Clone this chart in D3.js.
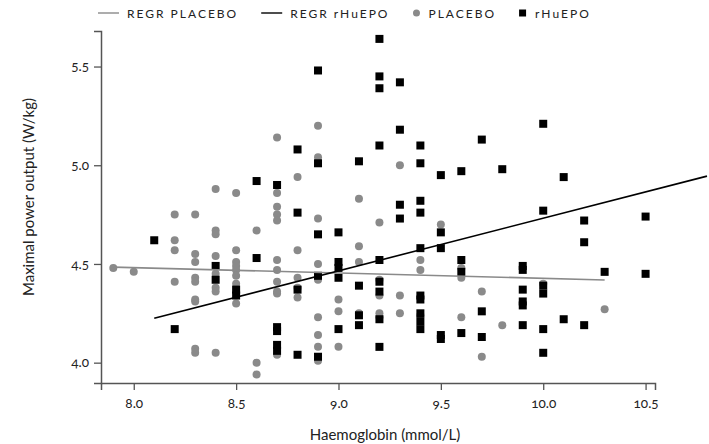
<!DOCTYPE html>
<html>
<head>
<meta charset="utf-8">
<script src="https://cdn.jsdelivr.net/npm/d3@7"></script>
<style>
    body { margin: 0; background: #fff; }
    text { font-family: Lato, "Open Sans", sans-serif; fill: #222; }
</style>
</head>
<body>
<script>
    // placebo group (grey dots)
    const placeboHb = [
        7.9, 8.0,
        8.2, 8.2, 8.2, 8.2,
        8.3, 8.3, 8.3, 8.3, 8.3, 8.3, 8.3, 8.3, 8.3,
        8.4, 8.4, 8.4, 8.4, 8.4, 8.4, 8.4, 8.4,
        8.5, 8.5, 8.5, 8.5, 8.5, 8.5, 8.5, 8.5,
        8.6, 8.6, 8.6,
        8.7, 8.7, 8.7, 8.7, 8.7, 8.7, 8.7, 8.7, 8.7, 8.7, 8.7,
        8.8, 8.8, 8.8, 8.8, 8.8,
        8.9, 8.9, 8.9, 8.9, 8.9, 8.9, 8.9, 8.9, 8.9,
        9.0, 9.0, 9.0,
        9.1, 9.1, 9.1, 9.1,
        9.2, 9.2, 9.2, 9.2, 9.2,
        9.3, 9.3, 9.3,
        9.4, 9.4, 9.4,
        9.5,
        9.6, 9.6, 9.6,
        9.7, 9.7,
        9.8,
        10.0,
        10.3
    ];
    const placeboPower = [
        4.48, 4.46,
        4.75, 4.62, 4.57, 4.41,
        4.75, 4.55, 4.51, 4.43, 4.41, 4.32, 4.31, 4.07, 4.05,
        4.88, 4.67, 4.65, 4.54, 4.45, 4.38, 4.36, 4.05,
        4.86, 4.57, 4.51, 4.49, 4.47, 4.44, 4.40, 4.30,
        4.67, 4.00, 3.94,
        5.14, 4.86, 4.79, 4.75, 4.72, 4.52, 4.47, 4.41, 4.36, 4.35, 4.04,
        4.94, 4.57, 4.43, 4.38, 4.33,
        5.20, 5.04, 4.73, 4.50, 4.42, 4.23, 4.14, 4.08, 4.01,
        4.32, 4.26, 4.08,
        4.83, 4.59, 4.51, 4.25,
        4.71, 4.42, 4.34, 4.25, 4.23,
        5.00, 4.34, 4.25,
        4.52, 4.47, 4.24,
        4.70,
        4.48, 4.43, 4.23,
        4.36, 4.03,
        4.19,
        4.40,
        4.27
    ];

    // rHuEPO group (black squares)
    const epoHb = [
        8.1,
        8.2,
        8.4, 8.4,
        8.5, 8.5,
        8.6, 8.6,
        8.7, 8.7, 8.7, 8.7, 8.7,
        8.8, 8.8, 8.8, 8.8,
        8.9, 8.9, 8.9, 8.9, 8.9,
        9.0, 9.0, 9.0, 9.0, 9.0,
        9.1, 9.1, 9.1, 9.1,
        9.2, 9.2, 9.2, 9.2, 9.2, 9.2, 9.2, 9.2, 9.2,
        9.3, 9.3, 9.3, 9.3,
        9.4, 9.4, 9.4, 9.4, 9.4, 9.4, 9.4, 9.4, 9.4, 9.4,
        9.5, 9.5, 9.5, 9.5, 9.5,
        9.6, 9.6, 9.6, 9.6,
        9.7, 9.7, 9.7,
        9.8,
        9.9, 9.9, 9.9, 9.9, 9.9, 9.9,
        10.0, 10.0, 10.0, 10.0, 10.0, 10.0,
        10.1, 10.1,
        10.2, 10.2, 10.2,
        10.3,
        10.5, 10.5
    ];
    const epoPower = [
        4.62,
        4.17,
        4.49, 4.42,
        4.37, 4.34,
        4.92, 4.53,
        4.90, 4.18, 4.16, 4.09, 4.06,
        5.08, 4.76, 4.37, 4.04,
        5.48, 5.01, 4.65, 4.44, 4.03,
        4.66, 4.51, 4.48, 4.43, 4.17,
        5.02, 4.39, 4.24, 4.19,
        5.64, 5.45, 5.39, 5.10, 4.52, 4.41, 4.36, 4.22, 4.08,
        5.42, 5.18, 4.80, 4.73,
        5.10, 5.01, 4.82, 4.76, 4.58, 4.34, 4.32, 4.25, 4.21, 4.17,
        4.95, 4.66, 4.58, 4.14, 4.12,
        4.97, 4.52, 4.46, 4.15,
        5.13, 4.26, 4.13,
        4.98,
        4.49, 4.47, 4.37, 4.31, 4.29, 4.19,
        5.21, 4.77, 4.39, 4.35, 4.17, 4.05,
        4.94, 4.22,
        4.72, 4.61, 4.19,
        4.46,
        4.74, 4.45
    ];

    // regression lines (end points)
    const placeboFitHb = [7.9, 10.3];
    const placeboFitPower = [4.484, 4.419];
    const epoFitHb = [8.1, 10.8];
    const epoFitPower = [4.225, 4.945];

    const xTicks = [8.0, 8.5, 9.0, 9.5, 10.0, 10.5];
    const yTicks = [4.0, 4.5, 5.0, 5.5];
    const legendLabels = ["REGR PLACEBO", "REGR rHuEPO", "PLACEBO", "rHuEPO"];

    const width = 709, height = 444;
    const margin = { left: 101, right: 54, top: 31, bottom: 61 };
    const grey = "#8a8a8a";
    const axisColor = "#555";

    const svg = d3.select("body").append("svg")
        .attr("width", width)
        .attr("height", height);

    const x = d3.scaleLinear()
        .domain([7.84, 10.546])
        .range([margin.left, width - margin.right]);
    const y = d3.scaleLinear()
        .domain([3.897, 5.68])
        .range([height - margin.bottom, margin.top]);

    // axes
    const xAxis = svg.append("g")
        .attr("transform", `translate(0,${height - margin.bottom})`)
        .call(d3.axisBottom(x).tickValues(xTicks).tickFormat(d3.format(".1f")).tickSizeOuter(0).tickSize(7).tickPadding(8));
    const yAxis = svg.append("g")
        .attr("transform", `translate(${margin.left},0)`)
        .call(d3.axisLeft(y).tickValues(yTicks).tickFormat(d3.format(".1f")).tickSizeOuter(0).tickSize(7).tickPadding(5));

    [xAxis, yAxis].forEach(a => {
        a.select(".domain").attr("stroke", axisColor).attr("stroke-width", 1.5);
        a.selectAll(".tick line").attr("stroke", axisColor).attr("stroke-width", 1.3);
        a.selectAll(".tick text")
            .style("font-family", "Lato, sans-serif")
            .style("font-size", "13.5px")
            .style("font-variant-numeric", "oldstyle-nums")
            .attr("fill", "#333");
    });

    svg.append("text")
        .attr("x", (margin.left + width - margin.right) / 2 + 7)
        .attr("y", 440)
        .attr("text-anchor", "middle")
        .style("font-size", "15px")
        .text("Haemoglobin (mmol/L)");

    svg.append("text")
        .attr("transform", `translate(34,${(margin.top + height - margin.bottom) / 2 - 10}) rotate(-90)`)
        .attr("text-anchor", "middle")
        .style("font-size", "15px")
        .text("Maximal power output (W/kg)");

    // points
    svg.append("g")
        .selectAll("circle")
        .data(placeboHb.map((h, i) => [h, placeboPower[i]]))
        .join("circle")
        .attr("cx", d => x(d[0]))
        .attr("cy", d => y(d[1]))
        .attr("r", 4)
        .attr("fill", grey);

    const sq = 8;
    svg.append("g")
        .selectAll("rect")
        .data(epoHb.map((h, i) => [h, epoPower[i]]))
        .join("rect")
        .attr("x", d => x(d[0]) - sq / 2)
        .attr("y", d => y(d[1]) - sq / 2)
        .attr("width", sq)
        .attr("height", sq)
        .attr("fill", "#000");

    // regression lines
    const line = d3.line().x(d => x(d[0])).y(d => y(d[1]));
    svg.append("path")
        .datum(placeboFitHb.map((h, i) => [h, placeboFitPower[i]]))
        .attr("d", line)
        .attr("fill", "none")
        .attr("stroke", grey)
        .attr("stroke-width", 1.6);
    svg.append("path")
        .datum(epoFitHb.map((h, i) => [h, epoFitPower[i]]))
        .attr("d", line)
        .attr("fill", "none")
        .attr("stroke", "#000")
        .attr("stroke-width", 1.6);

    // legend
    const spacing = 2;
    const legend = svg.append("g").attr("transform", "translate(0,13)");
    let lx = 98;
    legendLabels.forEach((lab, i) => {
        const g = legend.append("g").attr("transform", `translate(${lx},0)`);
        let off;
        if (i < 2) {
            g.append("line").attr("x1", 0).attr("x2", 21).attr("y1", 0).attr("y2", 0)
                .attr("stroke", i === 0 ? grey : "#000").attr("stroke-width", 1.4);
            off = 29;
        } else if (i === 2) {
            g.append("circle").attr("cx", 4).attr("cy", 0).attr("r", 3.5).attr("fill", grey);
            off = 16;
        } else {
            g.append("rect").attr("x", 0).attr("y", -3.5).attr("width", 7).attr("height", 7).attr("fill", "#000");
            off = 16;
        }
        const t = g.append("text")
            .attr("x", off)
            .attr("y", 4.5)
            .style("font-size", "12px")
            .style("letter-spacing", spacing + "px")
            .text(lab);
        lx += off + t.node().getComputedTextLength() - spacing + 25;
    });
</script>
</body>
</html>
